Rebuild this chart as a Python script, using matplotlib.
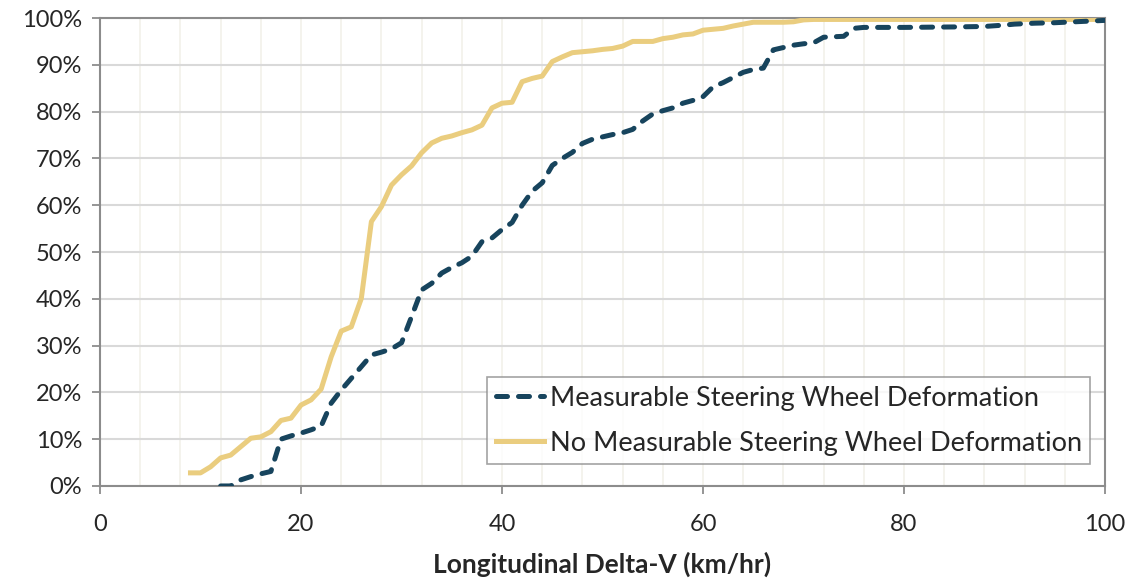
import matplotlib.pyplot as plt
from matplotlib.ticker import MultipleLocator, PercentFormatter

plt.rcParams['font.family'] = ['Lato', 'DejaVu Sans']

# CDF data (Longitudinal Delta-V in km/hr, cumulative %)
no_def_x = [9, 10, 11, 12, 13, 14, 15, 16, 17, 18, 19, 20, 21, 22, 23, 24, 25, 26, 27, 28,
            29, 30, 31, 32, 33, 34, 35, 36, 37, 38, 39, 40, 41, 42, 43, 44, 45, 46, 47, 48,
            49, 50, 51, 52, 53, 54, 55, 56, 57, 58, 59, 60, 61, 62, 63, 64, 65, 66, 67, 68,
            69, 70, 71, 100]
no_def_y = [2.8, 2.8, 4.1, 6.0, 6.6, 8.4, 10.2, 10.5, 11.6, 14.0, 14.5, 17.3, 18.4, 20.7, 27.6,
            33.1, 34.0, 40.1, 56.5, 59.7, 64.3, 66.5, 68.4, 71.2, 73.3, 74.3, 74.8, 75.5, 76.1,
            77.1, 80.8, 81.8, 82.0, 86.4, 87.1, 87.6, 90.7, 91.7, 92.6, 92.8, 93.0, 93.3, 93.5,
            94.0, 95.0, 95.0, 95.0, 95.6, 95.9, 96.4, 96.6, 97.4, 97.6, 97.8, 98.3, 98.7, 99.1,
            99.1, 99.1, 99.1, 99.2, 99.6, 99.7, 99.7]

def_x = [12, 13, 14, 15, 16, 17, 18, 19, 20, 21, 22, 23, 24, 25, 26, 27, 28, 29, 30, 31,
         32, 33, 34, 35, 36, 37, 38, 39, 40, 41, 42, 43, 44, 45, 46, 47, 48, 49, 50, 51,
         52, 53, 54, 55, 56, 57, 58, 59, 60, 61, 62, 63, 64, 65, 66, 67, 68, 69, 70, 71,
         72, 73, 74, 75, 76, 80, 85, 88, 90, 91, 93, 95, 97, 98, 100]
def_y = [0.0, 0.0, 1.3, 2.0, 2.6, 3.1, 10.0, 10.7, 11.3, 12.0, 12.8, 17.7, 20.5, 23.0, 25.5,
         28.0, 28.6, 29.3, 30.6, 36.2, 41.9, 43.3, 45.5, 46.7, 47.7, 49.1, 52.2, 53.0, 54.8,
         56.3, 60.0, 63.0, 64.8, 68.5, 70.0, 71.3, 73.2, 74.1, 74.6, 75.1, 75.5, 76.2, 78.0,
         79.5, 80.2, 80.8, 81.8, 82.4, 83.2, 85.3, 86.2, 87.3, 88.4, 89.0, 89.3, 93.2, 93.7,
         94.2, 94.5, 94.7, 95.9, 96.0, 96.1, 97.8, 98.0, 98.0, 98.1, 98.2, 98.5, 98.7, 98.9,
         99.0, 99.2, 99.3, 99.5]

fig = plt.figure(figsize=(11.33, 5.82), dpi=100)
ax = fig.add_axes([0.0883, 0.165, 0.887, 0.804])

ax.plot(def_x, def_y, color='#17445d', lw=3.6, dashes=(2.2, 2.2),
        dash_capstyle='round', solid_capstyle='round', zorder=4,
        label='Measurable Steering Wheel Deformation')
ax.plot(no_def_x, no_def_y, color='#eacd7f', lw=3.6, zorder=3,
        label='No Measurable Steering Wheel Deformation')

ax.set_xlim(0, 100)
ax.set_ylim(0, 100)
ax.xaxis.set_major_locator(MultipleLocator(20))
ax.xaxis.set_minor_locator(MultipleLocator(4))
ax.yaxis.set_major_locator(MultipleLocator(10))
ax.yaxis.set_major_formatter(PercentFormatter(decimals=0))

ax.grid(axis='y', which='major', color='#d9d9d9', lw=1.5, zorder=0)
ax.grid(axis='x', which='both', color='#f2f1ea', lw=1.2, zorder=0)
ax.set_axisbelow(True)

for s in ax.spines.values():
    s.set_color('#8c8c8c')
    s.set_linewidth(1.5)

ax.tick_params(axis='both', which='major', length=6, width=1.3, color='#8c8c8c',
               labelsize=17, labelcolor='#262626')
ax.tick_params(axis='x', which='major', pad=14)
ax.tick_params(axis='y', which='major', pad=7)
ax.tick_params(axis='x', which='minor', length=0)

ax.set_xlabel('Longitudinal Delta-V (km/hr)', fontsize=19, fontweight='bold',
              color='#262626', labelpad=12)

leg = ax.legend(loc='lower right', bbox_to_anchor=(0.985, 0.047), borderaxespad=0,
                fontsize=19.5, frameon=True, fancybox=False, handlelength=1.8,
                handletextpad=0.2, labelspacing=0.75, borderpad=0.3)
leg.get_frame().set_edgecolor('#8c8c8c')
leg.get_frame().set_linewidth(1.2)
for t in leg.get_texts():
    t.set_color('#262626')

fig.savefig('out.png', dpi=100)
